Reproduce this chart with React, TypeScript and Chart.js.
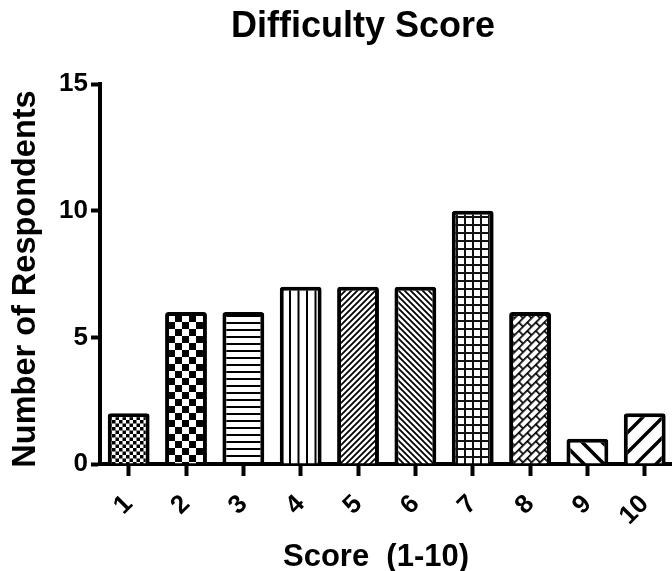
import React, { useEffect, useRef } from "react";
import { Chart, registerables } from "chart.js";

Chart.register(...registerables);

const categories = ["1", "2", "3", "4", "5", "6", "7", "8", "9", "10"];
const respondents = [2, 6, 6, 7, 7, 7, 10, 6, 1, 2];
const yMin = 0;
const yMax = 15;
const yStep = 5;
const chartTitle = "Difficulty Score";
const xTitle = "Score  (1-10)";
const yTitle = "Number of Respondents";

const FONT = "'Liberation Sans', Arial, Helvetica, sans-serif";

type Draw = (g: CanvasRenderingContext2D, s: number) => void;

function makePattern(
  ctx: CanvasRenderingContext2D,
  size: number,
  draw: Draw,
  scale = 1,
  rotate = 0
): CanvasPattern {
  const c = document.createElement("canvas");
  c.width = size;
  c.height = size;
  const g = c.getContext("2d") as CanvasRenderingContext2D;
  g.fillStyle = "#fff";
  g.fillRect(0, 0, size, size);
  g.fillStyle = "#000";
  g.strokeStyle = "#000";
  draw(g, size);
  const p = ctx.createPattern(c, "repeat") as CanvasPattern;
  if (scale !== 1 || rotate !== 0) {
    p.setTransform(new DOMMatrix().rotate(rotate).scale(scale));
  }
  return p;
}

const checker = (cell: number): Draw => (g) => {
  g.fillRect(0, 0, cell, cell);
  g.fillRect(cell, cell, cell, cell);
};

const slashLines = (w: number): Draw => (g, s) => {
  g.lineWidth = w;
  g.beginPath();
  for (let k = -1; k <= 1; k++) {
    g.moveTo(k * s - s, 2 * s);
    g.lineTo(k * s + 2 * s, -s);
  }
  g.stroke();
};

const backLines = (w: number): Draw => (g, s) => {
  g.lineWidth = w;
  g.beginPath();
  for (let k = -1; k <= 1; k++) {
    g.moveTo(k * s - s, -s);
    g.lineTo(k * s + 2 * s, 2 * s);
  }
  g.stroke();
};

function buildPatterns(ctx: CanvasRenderingContext2D): CanvasPattern[] {
  return [
    makePattern(ctx, 14, checker(7), 0.5),
    makePattern(ctx, 14, checker(7)),
    makePattern(ctx, 7, (g) => g.fillRect(0, 0, 7, 2)),
    makePattern(ctx, 17, (g) => g.fillRect(0, 0, 4, 17), 0.5),
    makePattern(ctx, 6, slashLines(1.8)),
    makePattern(ctx, 6, backLines(1.8)),
    makePattern(ctx, 8, (g) => {
      g.fillStyle = "#111";
      g.fillRect(0, 0, 8, 2);
      g.fillRect(0, 0, 2, 8);
    }),
    makePattern(
      ctx,
      12,
      (g) => {
        g.fillRect(0, 0, 12, 1.7);
        g.fillRect(0, 6, 12, 1.7);
        g.fillRect(0, 0, 1.7, 6);
        g.fillRect(6, 6, 1.7, 6);
      },
      1,
      -45
    ),
    makePattern(ctx, 20, backLines(3.6)),
    makePattern(ctx, 20, slashLines(3.4)),
  ];
}

const titlesPlugin = {
  id: "customTitles",
  afterDraw(chart: any) {
    const { ctx, chartArea } = chart;
    ctx.save();
    ctx.fillStyle = "#000";
    ctx.textAlign = "center";
    ctx.textBaseline = "alphabetic";
    ctx.font = `bold 36px ${FONT}`;
    ctx.fillText(chartTitle, chartArea.left + 263, 37);
    ctx.font = `bold 31px ${FONT}`;
    ctx.fillText(xTitle, chartArea.left + 276, 566);
    ctx.translate(35, (chartArea.top + chartArea.bottom) / 2 + 5);
    ctx.rotate(-Math.PI / 2);
    ctx.font = `bold 32.5px ${FONT}`;
    ctx.fillText(yTitle, 0, 0);
    ctx.restore();
  },
};

export default function App() {
  const canvasRef = useRef<HTMLCanvasElement | null>(null);

  useEffect(() => {
    const canvas = canvasRef.current;
    if (!canvas) return;
    const ctx = canvas.getContext("2d") as CanvasRenderingContext2D;
    const patterns = buildPatterns(ctx);
    const tickFont = { family: FONT, size: 26, weight: "bold" as const };

    const chart = new Chart(ctx, {
      type: "bar",
      data: {
        labels: categories,
        datasets: [
          {
            data: respondents,
            backgroundColor: patterns,
            borderColor: "#000",
            borderWidth: 4,
            borderRadius: 3,
            borderSkipped: "start",
            barPercentage: 0.73,
            categoryPercentage: 1,
          },
        ],
      },
      options: {
        responsive: false,
        animation: false,
        devicePixelRatio: 1,
        layout: { padding: { left: 0, right: 4, top: 84, bottom: 0 } },
        plugins: {
          legend: { display: false },
          title: { display: false },
          tooltip: { enabled: false },
        },
        scales: {
          x: {
            type: "category",
            offset: true,
            grid: {
              display: true,
              offset: false,
              drawOnChartArea: false,
              drawTicks: true,
              tickLength: 12,
              tickWidth: 4,
              tickColor: "#000",
            },
            border: { display: true, color: "#000", width: 4 },
            ticks: {
              color: "#000",
              font: tickFont,
              minRotation: 45,
              maxRotation: 45,
              padding: 13,
              autoSkip: false,
            },
            afterFit(scale: any) {
              scale.height = 107;
            },
          },
          y: {
            min: yMin,
            max: yMax,
            grid: {
              display: true,
              drawOnChartArea: false,
              drawTicks: true,
              tickLength: 9,
              tickWidth: 4,
              tickColor: "#000",
            },
            border: { display: true, color: "#000", width: 4 },
            ticks: {
              stepSize: yStep,
              color: "#000",
              font: tickFont,
              padding: 3,
            },
            afterFit(scale: any) {
              scale.width = 100;
            },
          },
        },
      },
      plugins: [titlesPlugin],
    });

    return () => chart.destroy();
  }, []);

  return (
    <div
      style={{
        position: "fixed",
        left: 0,
        top: 0,
        width: 672,
        height: 571,
        overflow: "hidden",
        background: "#fff",
      }}
    >
      <canvas ref={canvasRef} width={680} height={571} style={{ display: "block" }} />
    </div>
  );
}
